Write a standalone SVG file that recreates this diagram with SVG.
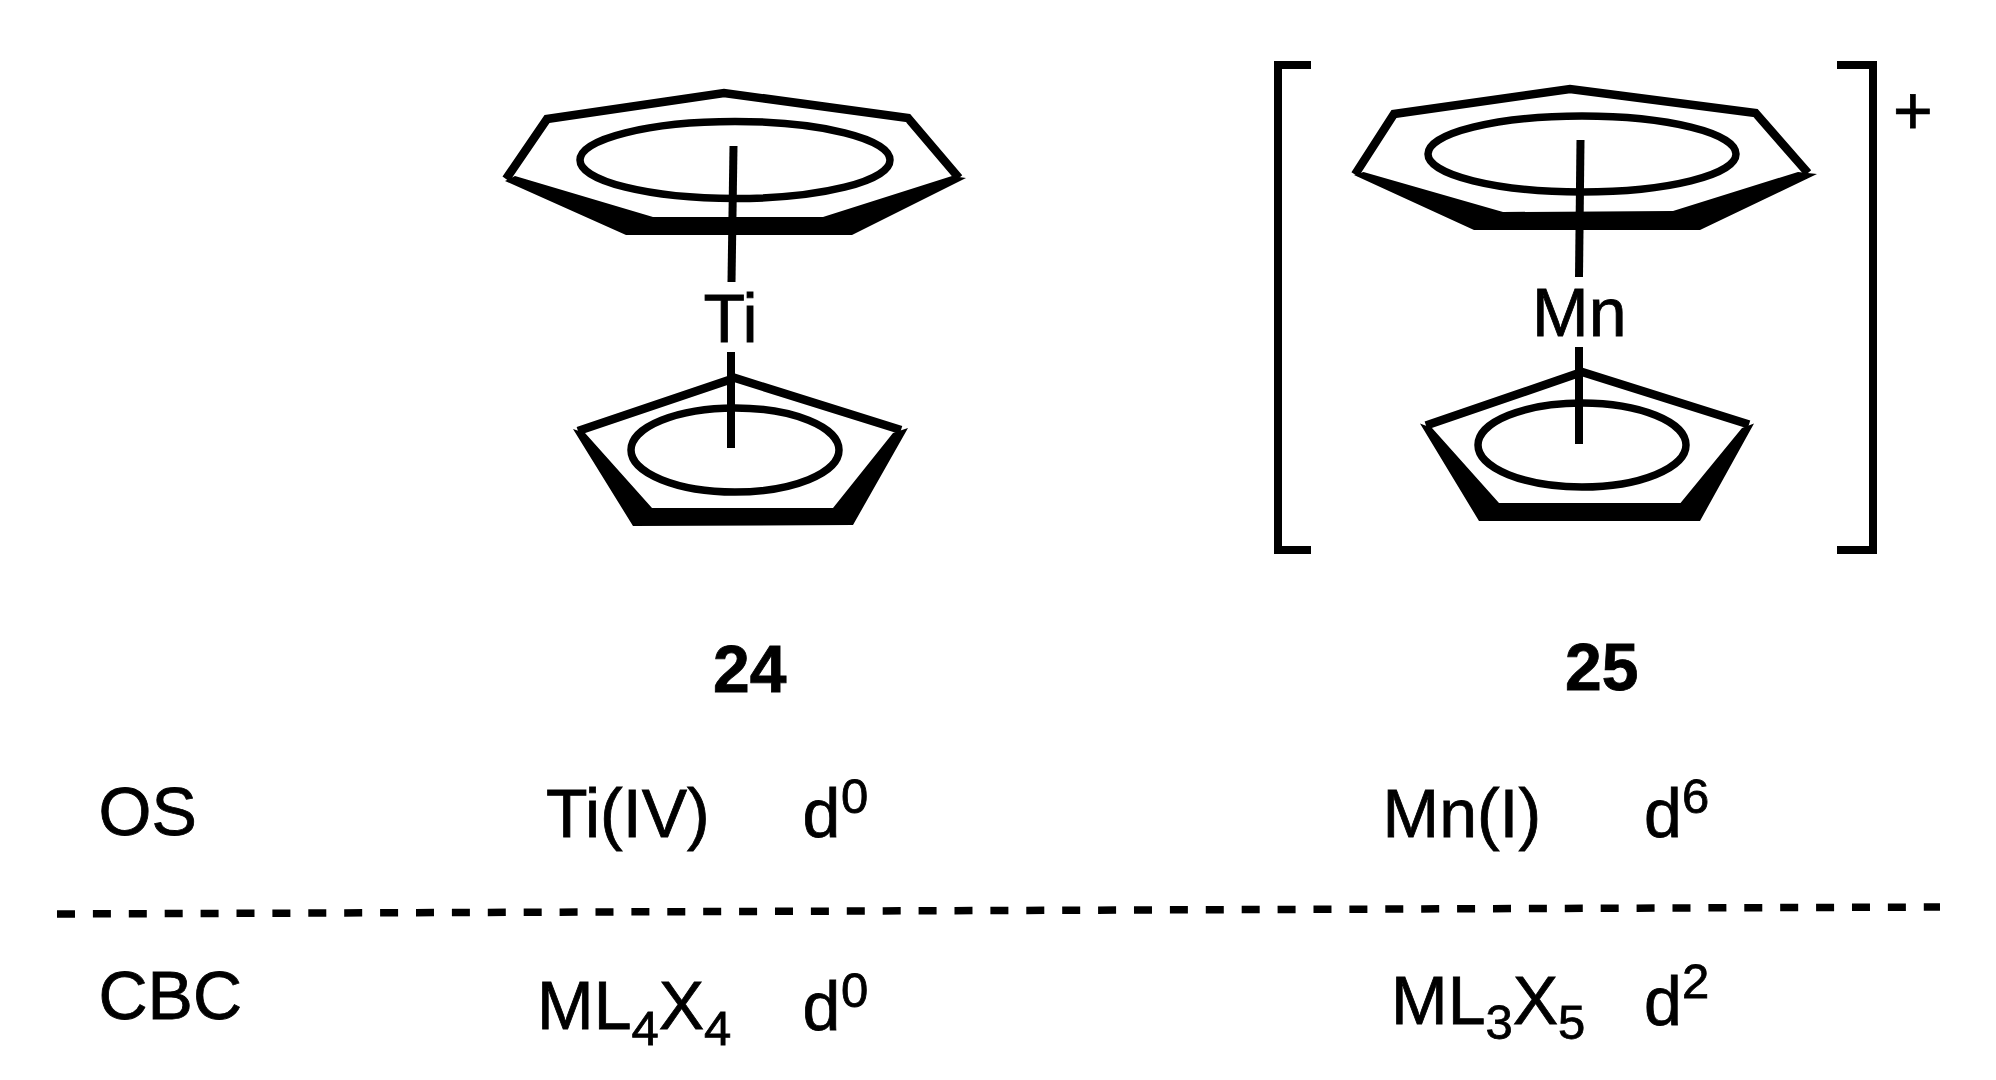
<svg xmlns="http://www.w3.org/2000/svg" width="1996" height="1080" viewBox="0 0 1996 1080">
<style>
text{font-family:"Liberation Sans",Arial,sans-serif;font-size:68px;fill:#000;stroke:#000;stroke-width:0.8px}
.b{font-weight:bold;font-size:66px}
.s{font-size:49px}
.o{fill:none;stroke:#000;stroke-width:8.500;stroke-linejoin:miter}
.e{fill:none;stroke:#000;stroke-width:7.500}
.w{fill:#000;stroke:none}
.l{stroke:#000;stroke-width:8;fill:none}
</style>
<rect width="1996" height="1080" fill="#fff"/>
<g id="connectors">
<path class="l" d="M733.5 146L731.5 282"/>
<path class="l" d="M731 352V448"/>
<path class="l" d="M1580.5 140L1579 277"/>
<path class="l" d="M1579 347V444"/>
<path id="divider" d="M57 914L1940 907" fill="none" stroke="#000" stroke-width="7.500" stroke-dasharray="18 17.9"/>
</g>
<g id="compound-24">
<g id="ring7-ti">
<path class="o" d="M506 179L547 119L724 93L908 118L959 178"/>
<polygon class="w" points="505,181 626,235 852,235 966,178 952,176 823,217 653,217 515,176"/>
<ellipse class="e" cx="735" cy="160" rx="155" ry="38.500"/>
</g>
<g id="ring5-ti">
<path class="o" d="M578 431L735 378L901 430"/>
<polygon class="w" points="573,429 633,526 853,525 908,428 893,433 833,508 652,508 585,433"/>
<ellipse class="e" cx="735" cy="450" rx="104" ry="42"/>
</g>
<text id="ti" x="703.500" y="342">Ti</text>
<text id="label-24" class="b" x="713" y="692">24</text>
</g>
<g id="compound-25">
<g id="ring7-mn">
<path class="o" d="M1355 174.500L1394 114L1570 89L1755.500 113L1808 173"/>
<polygon class="w" points="1354,175 1474,230 1700,230 1817,174 1798,172 1673,211 1503,212 1363.500,172"/>
<ellipse class="e" cx="1582" cy="154" rx="154" ry="38"/>
</g>
<g id="ring5-mn">
<path class="o" d="M1426 425.500L1582 372L1749 424.500"/>
<polygon class="w" points="1420,423.500 1479,521 1700,521 1754,423.500 1742,428 1680.500,503 1499,503 1432,428"/>
<ellipse class="e" cx="1582" cy="445" rx="104" ry="42"/>
</g>
<text id="mn" x="1532" y="336">Mn</text>
<path id="bracket-left" class="l" d="M1311 65H1278V550H1311"/>
<path id="bracket-right" class="l" d="M1845 65H1881V550H1845" transform="translate(-8 0)"/>
<text id="charge" x="1893" y="134">+</text>
<text id="label-25" class="b" x="1565" y="690">25</text>
</g>
<g id="row-os">
<text x="98.500" y="835">OS</text>
<text x="546" y="837">Ti(IV)</text>
<text x="802.500" y="837">d<tspan class="s" x="841" y="813">0</tspan></text>
<text x="1382.500" y="837">Mn(I)</text>
<text x="1644" y="837">d<tspan class="s" x="1682" y="813">6</tspan></text>
</g>
<g id="row-cbc">
<text x="98.500" y="1019">CBC</text>
<text x="537" y="1029">ML<tspan class="s" y="1045">4</tspan><tspan y="1029">X</tspan><tspan class="s" y="1045">4</tspan></text>
<text x="802.500" y="1030">d<tspan class="s" x="841" y="1007">0</tspan></text>
<text x="1391" y="1024">ML<tspan class="s" y="1039">3</tspan><tspan y="1024">X</tspan><tspan class="s" y="1039">5</tspan></text>
<text x="1644" y="1025">d<tspan class="s" x="1682" y="998">2</tspan></text>
</g>
</svg>
